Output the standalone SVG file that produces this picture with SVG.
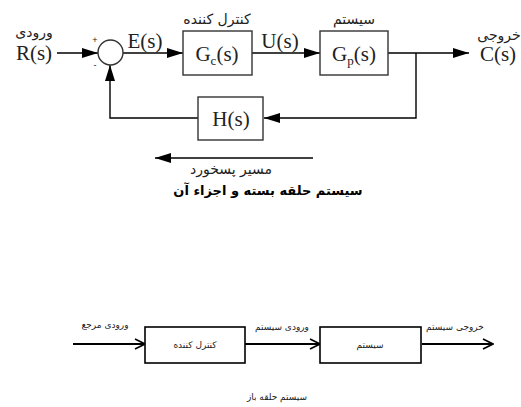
<svg xmlns="http://www.w3.org/2000/svg" width="521" height="407" viewBox="0 0 521 407">
<defs>
<marker id="tri" markerWidth="16" markerHeight="10" refX="16" refY="5" orient="auto" markerUnits="userSpaceOnUse">
<path d="M0,0 L16,5 L0,10 Z" fill="#000"/>
</marker>
<marker id="chev" markerWidth="12" markerHeight="12" refX="11" refY="6" orient="auto" markerUnits="userSpaceOnUse">
<path d="M1,1 L11,6 L1,11" fill="none" stroke="#000" stroke-width="1.6"/>
</marker>
<style>
.ln{fill:none;stroke:#000;stroke-width:1.4}
.ln2{fill:none;stroke:#000;stroke-width:1.8}
.box{fill:#fff;stroke:#333;stroke-width:1.4}
.box2{fill:#fff;stroke:#000;stroke-width:1.6}
.ser{font-family:"Liberation Serif",serif;font-size:21px;fill:#222}
.fa{font-family:"DejaVu Sans",sans-serif;font-size:14px;fill:#222}
.fs{font-family:"DejaVu Sans",sans-serif;font-size:9px;fill:#222}
</style>
</defs>
<rect width="521" height="407" fill="#fff"/>

<g id="connectors">
<line class="ln" x1="57" y1="53" x2="98" y2="53" marker-end="url(#tri)"/>
<line class="ln" x1="123" y1="53" x2="183" y2="53" marker-end="url(#tri)"/>
<line class="ln" x1="252" y1="53" x2="320" y2="53" marker-end="url(#tri)"/>
<line class="ln" x1="388" y1="53" x2="469" y2="53" marker-end="url(#tri)"/>
<polyline class="ln" points="416,53 416,118 264,118" marker-end="url(#tri)"/>
<polyline class="ln" points="198,118 110,118 110,65" marker-end="url(#tri)"/>
<line class="ln" x1="313" y1="158" x2="155" y2="158" marker-end="url(#tri)"/>
<line class="ln2" x1="73" y1="344" x2="145" y2="344" marker-end="url(#chev)"/>
<line class="ln2" x1="245" y1="344" x2="320" y2="344" marker-end="url(#chev)"/>
<line class="ln2" x1="422" y1="344" x2="493" y2="344" marker-end="url(#chev)"/>
</g>

<g id="input">
<text class="fa" x="34" y="37" text-anchor="middle">ورودی</text>
<text class="ser" x="34" y="60" text-anchor="middle">R(s)</text>
</g>

<g id="sum">
<circle cx="110.5" cy="52.5" r="12.5" fill="#fff" stroke="#333" stroke-width="1.4"/>
<text x="95" y="43" font-family="Liberation Sans,sans-serif" font-size="9" text-anchor="middle" fill="#222">+</text>
<text x="95" y="68" font-family="Liberation Sans,sans-serif" font-size="9" text-anchor="middle" fill="#222">-</text>
</g>

<g id="es">
<text class="ser" x="145" y="48" text-anchor="middle">E(s)</text>
</g>

<g id="controller">
<rect class="box" x="183" y="31" width="69" height="44"/>
<text class="fa" x="217" y="24" text-anchor="middle" font-size="16">کنترل کننده</text>
<text class="ser" x="217" y="61" text-anchor="middle">G<tspan font-size="13" dy="4">c</tspan><tspan dy="-4">(s)</tspan></text>
</g>

<g id="us">
<text class="ser" x="280" y="48" text-anchor="middle">U(s)</text>
</g>

<g id="plant">
<rect class="box" x="320" y="31" width="68" height="44"/>
<text class="fa" x="354" y="24" text-anchor="middle" font-size="16">سیستم</text>
<text class="ser" x="354" y="61" text-anchor="middle">G<tspan font-size="13" dy="4">p</tspan><tspan dy="-4">(s)</tspan></text>
</g>

<g id="output">
<text class="fa" x="499" y="40" text-anchor="middle">خروجی</text>
<text class="ser" x="498" y="61" text-anchor="middle">C(s)</text>
</g>

<g id="feedback">
<rect class="box" x="198" y="97" width="65" height="43"/>
<text class="ser" x="231" y="126" text-anchor="middle">H(s)</text>
</g>

<g id="feedback-label">
<text class="fa" x="231" y="174" text-anchor="middle" font-size="16">مسیر پسخورد</text>
</g>

<g id="title-closed">
<text x="268" y="195" font-family="DejaVu Sans,sans-serif" font-size="13" font-weight="bold" text-anchor="middle" fill="#000">سیستم حلقه بسته و اجزاء آن</text>
</g>

<g id="ref-input">
<text class="fs" x="105" y="328" text-anchor="middle">ورودی مرجع</text>
</g>

<g id="controller2">
<rect class="box2" x="145" y="327" width="100" height="36"/>
<text class="fs" x="195" y="348" text-anchor="middle">کنترل کننده</text>
</g>

<g id="sys-input">
<text class="fs" x="282" y="330" text-anchor="middle">ورودی سیستم</text>
</g>

<g id="plant2">
<rect class="box2" x="320" y="327" width="101" height="36"/>
<text class="fs" x="370" y="348" text-anchor="middle">سیستم</text>
</g>

<g id="sys-output">
<text class="fs" x="455" y="330" text-anchor="middle">خروجی سیستم</text>
</g>

<g id="title-open">
<text class="fs" x="277" y="400" text-anchor="middle">سیستم حلقه باز</text>
</g>
</svg>
